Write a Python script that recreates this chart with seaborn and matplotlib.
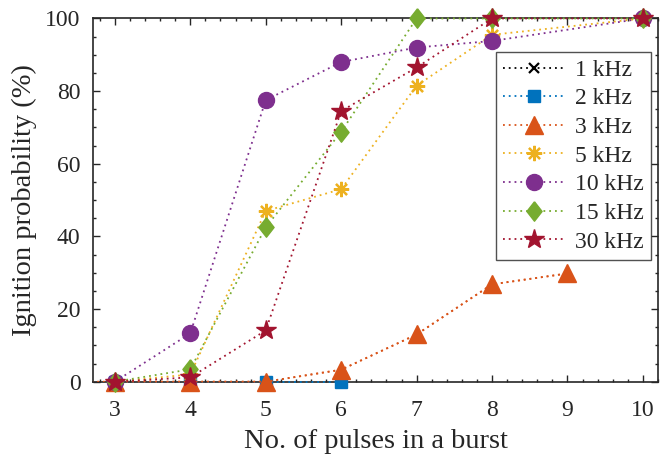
import numpy as np
import pandas as pd
import matplotlib
matplotlib.use("Agg")
import matplotlib.pyplot as plt
from matplotlib.ticker import MultipleLocator
import seaborn as sns

# ---- data ----
x_1k = [3, 4, 5]
y_1k = [0, 0, 0]
x_2k = [3, 4, 5, 6]
y_2k = [0, 0, 0, 0]
x_3k = [2, 3, 4, 5, 6, 7, 8, 9]
y_3k = [0, 0, 0, 0, 3.3, 13, 26.8, 29.8]
x_5k = [3, 4, 5, 6, 7, 8, 10]
y_5k = [0, 2, 47, 53, 81.5, 95.5, 100]
x_10k = [3, 4, 5, 6, 7, 8, 10]
y_10k = [0, 13.3, 77.5, 88, 92, 93.8, 100]
x_15k = [3, 4, 5, 6, 7, 8, 10]
y_15k = [0, 3.4, 42.5, 68.8, 100, 100, 100]
x_30k = [3, 4, 5, 6, 7, 8, 10]
y_30k = [0, 1.2, 14.1, 74.5, 86.5, 100, 100]

labels = ["1 kHz", "2 kHz", "3 kHz", "5 kHz", "10 kHz", "15 kHz", "30 kHz"]
xs = [x_1k, x_2k, x_3k, x_5k, x_10k, x_15k, x_30k]
ys = [y_1k, y_2k, y_3k, y_5k, y_10k, y_15k, y_30k]

colors = ["#000000", "#0072BD", "#D95319", "#EDB120", "#7E2F8E", "#77AC30", "#A2142F"]
diamond = [(0, 1), (0.78, 0), (0, -1), (-0.78, 0), (0, 1)]
markers = ["x", "s", "^", (8, 2, 0), "o", diamond, "*"]
msizes = [7, 8, 13, 11, 11.5, 14, 14.5]
mews = [1.6, 1, 1, 1.6, 1, 1, 1]

sns.set_theme(style="ticks")
plt.rcParams["font.family"] = ["Liberation Serif", "DejaVu Serif"]
plt.rcParams["mathtext.fontset"] = "stix"

fig = plt.figure(figsize=(6.64, 4.61), dpi=100)
ax = fig.add_axes([0.140, 0.172, 0.851, 0.788])

XMIN, XMAX = 2.71, 10.2
dots = (0, (1, 2.2))
for lab, x, y, c, m, ms, mew in zip(labels, xs, ys, colors, markers, msizes, mews):
    df = pd.DataFrame({"x": x, "y": y})
    inside = df[(df["x"] >= XMIN) & (df["x"] <= XMAX)]
    if len(inside) < len(df):
        # line part that runs beyond the axes: clipped, no markers
        sns.lineplot(data=df, x="x", y="y", ax=ax, color=c, linestyle=dots,
                     linewidth=1.3, legend=False)
    sns.lineplot(data=inside, x="x", y="y", ax=ax, color=c, marker=m,
                 markersize=ms, markeredgecolor=c, markerfacecolor=c,
                 markeredgewidth=mew, linestyle=dots, linewidth=1.3, label=lab)
    ax.lines[-1].set_clip_on(False)

ax.set_xlim(XMIN, XMAX)
ax.set_ylim(0, 100)
ax.xaxis.set_major_locator(MultipleLocator(1))
ax.xaxis.set_minor_locator(MultipleLocator(0.2))
ax.yaxis.set_major_locator(MultipleLocator(20))
ax.yaxis.set_minor_locator(MultipleLocator(5))
ax.tick_params(which="both", direction="in", top=True, right=True, colors="#262626",
               labelsize=17, width=1.0)
ax.tick_params(which="major", length=5)
ax.tick_params(axis="x", which="major", pad=13)
ax.tick_params(axis="y", which="major", pad=9)
ax.tick_params(which="minor", length=2.5)
for s in ax.spines.values():
    s.set_color("#262626")
    s.set_linewidth(1.2)
    s.set_zorder(1)

ax.set_xlabel("No. of pulses in a burst", fontsize=20.5, color="#262626", labelpad=6)
ax.set_ylabel("Ignition probability (%)", fontsize=20.5, color="#262626", labelpad=6)

leg = ax.legend(loc="upper right", bbox_to_anchor=(0.987, 0.907), fontsize=17,
                frameon=True, fancybox=False, edgecolor="#262626", handlelength=2.6,
                handletextpad=0.45, labelspacing=0.3, borderpad=0.3, borderaxespad=0)
leg.get_frame().set_linewidth(1.0)
leg.set_zorder(5)
for t in leg.get_texts():
    t.set_color("#262626")

fig.savefig("out.png", dpi=100)
